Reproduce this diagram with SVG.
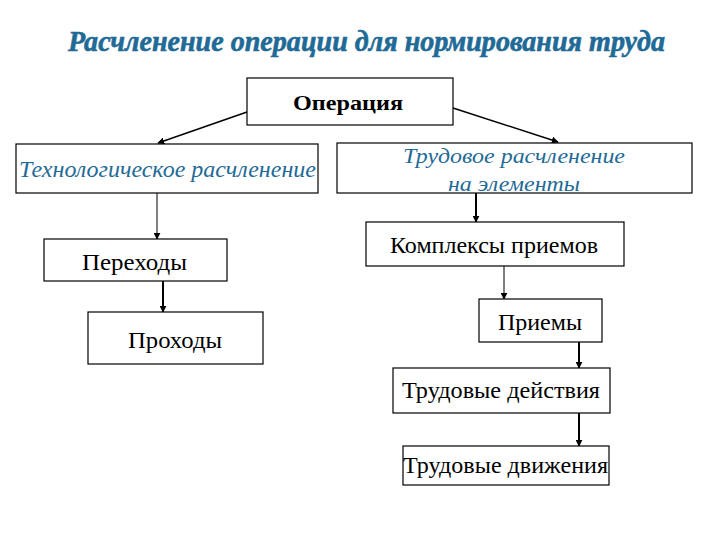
<svg xmlns="http://www.w3.org/2000/svg" width="720" height="540" viewBox="0 0 720 540">
<defs>
<style>
.box{fill:#fff;stroke:#000;stroke-width:1.2}
.t{font-family:"Liberation Serif","Times New Roman","DejaVu Serif",serif;fill:#000}
.it{font-style:italic;fill:#1f6a96}
.c{stroke:#000;fill:none}
.thin{stroke-width:1}
.thick{stroke-width:2}
</style>
<marker id="ah" viewBox="0 0 10 10" refX="9" refY="5" markerWidth="7" markerHeight="7" markerUnits="userSpaceOnUse" orient="auto">
<path d="M0,0 L10,5 L0,10 z" fill="#000"/>
</marker>
</defs>
<rect width="720" height="540" fill="#fff"/>
<text class="t" x="68" y="51" font-size="29" font-weight="bold" font-style="italic" style="fill:#1f6a96;stroke:#1f6a96;stroke-width:0.6" textLength="597" lengthAdjust="spacingAndGlyphs">Расчленение операции для нормирования труда</text>

<g id="connectors">
<line class="c" x1="247" y1="112" x2="158" y2="143" marker-end="url(#ah)" style="stroke-width:1.5"/>
<line class="c" x1="453" y1="108" x2="558" y2="142" marker-end="url(#ah)" style="stroke-width:1.5"/>
<line class="c thin" x1="157" y1="193" x2="157" y2="239" marker-end="url(#ah)"/>
<line class="c thick" x1="163" y1="281" x2="163" y2="312" marker-end="url(#ah)"/>
<line class="c thick" x1="476" y1="193" x2="476" y2="222" marker-end="url(#ah)"/>
<line class="c thin" x1="504" y1="266" x2="504" y2="299" marker-end="url(#ah)"/>
<line class="c thick" x1="579" y1="342" x2="579" y2="368" marker-end="url(#ah)"/>
<line class="c thick" x1="579" y1="413" x2="579" y2="446" marker-end="url(#ah)"/>
</g>

<g id="operation">
<rect class="box" x="247" y="78" width="206" height="47"/>
<text class="t" x="293" y="110" font-size="22" font-weight="bold" textLength="110" lengthAdjust="spacingAndGlyphs">Операция</text>
</g>
<g id="tech">
<rect class="box" x="16" y="144" width="302" height="49"/>
<text class="t it" x="19" y="177" font-size="23" textLength="297" lengthAdjust="spacingAndGlyphs">Технологическое расчленение</text>
</g>
<g id="labor">
<rect class="box" x="337" y="143" width="355" height="50"/>
<text class="t it" x="403" y="163" font-size="22" textLength="222" lengthAdjust="spacingAndGlyphs">Трудовое расчленение</text>
<text class="t it" x="448" y="191" font-size="22" textLength="132" lengthAdjust="spacingAndGlyphs">на элементы</text>
</g>
<g id="perekhody">
<rect class="box" x="44" y="239" width="183" height="42"/>
<text class="t" x="82" y="270" font-size="23" textLength="105" lengthAdjust="spacingAndGlyphs">Переходы</text>
</g>
<g id="prokhody">
<rect class="box" x="88" y="312" width="175" height="52"/>
<text class="t" x="128" y="348" font-size="23" textLength="94" lengthAdjust="spacingAndGlyphs">Проходы</text>
</g>
<g id="kompleksy">
<rect class="box" x="366" y="222" width="258" height="44"/>
<text class="t" x="390" y="253" font-size="23" textLength="208" lengthAdjust="spacingAndGlyphs">Комплексы приемов</text>
</g>
<g id="priemy">
<rect class="box" x="479" y="299" width="123" height="43"/>
<text class="t" x="498" y="330" font-size="23" textLength="84" lengthAdjust="spacingAndGlyphs">Приемы</text>
</g>
<g id="deystviya">
<rect class="box" x="393" y="368" width="217" height="45"/>
<text class="t" x="402" y="398" font-size="23" textLength="198" lengthAdjust="spacingAndGlyphs">Трудовые действия</text>
</g>
<g id="dvizheniya">
<rect class="box" x="403" y="446" width="206" height="39"/>
<text class="t" x="403" y="473" font-size="23" textLength="205" lengthAdjust="spacingAndGlyphs">Трудовые движения</text>
</g>
</svg>
